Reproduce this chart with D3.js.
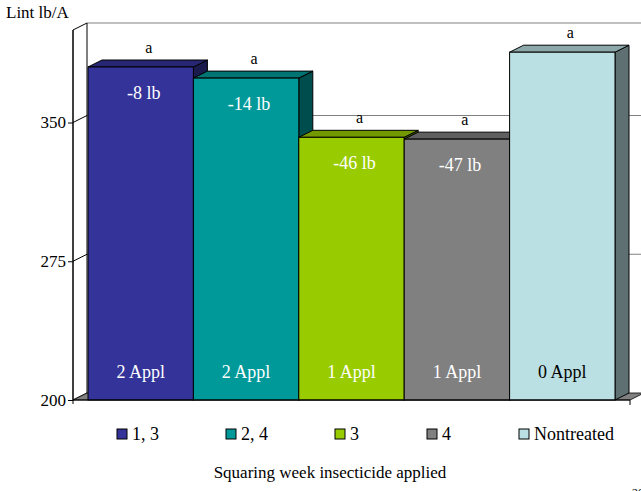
<!DOCTYPE html>
<html>
<head>
<meta charset="utf-8">
<script src="https://cdn.jsdelivr.net/npm/d3@7"></script>
<style>
  html, body { margin: 0; padding: 0; background: #fff; }
  svg { display: block; }
  svg text { font-family: "Liberation Serif", "Times New Roman", Times, serif; }
</style>
</head>
<body>
<svg id="chart" width="641" height="491"></svg>
<script>
// Lint yield by squaring-week insecticide treatment
const categories = ["1, 3", "2, 4", "3", "4", "Nontreated"];
const yieldValues = [380, 374, 342, 341, 388];
const applLabels = ["2 Appl", "2 Appl", "1 Appl", "1 Appl", "0 Appl"];
const sigLetters = ["a", "a", "a", "a", "a"];
const yTicks = [200, 275, 350];
const frontColors = ["#333399", "#009999", "#99cc00", "#808080", "#bbe0e3"];

const FONT = "'Liberation Serif', 'Times New Roman', Times, serif";
const svg = d3.select("#chart").attr("font-family", FONT);

// 3-D depth offset of the plot
const DX = 14, DY = -7;
const x0 = 73, xEnd = 630, yBase = 400, yTop = 30;

const y = d3.scaleLinear().domain([200, 400]).range([yBase, yTop]);
const x = d3.scaleBand().domain(categories).range([88, 615]).paddingInner(0).paddingOuter(0);

const shade = (c, k) => { const r = d3.rgb(c); return d3.rgb(r.r * k, r.g * k, r.b * k).formatHex(); };
const poly = pts => pts.map(p => p.join(",")).join(" ");

// back wall: top edge and gridlines
svg.append("line").attr("x1", x0 + DX).attr("x2", 641).attr("y1", yTop + DY).attr("y2", yTop + DY)
  .attr("stroke", "#808080").attr("stroke-width", 1);
svg.append("g").selectAll("line").data(yTicks.filter(d => d > 200)).join("line")
  .attr("x1", x0 + DX).attr("x2", 641)
  .attr("y1", d => y(d) + DY).attr("y2", d => y(d) + DY)
  .attr("stroke", "#808080").attr("stroke-width", 1.2);

// left side wall
svg.append("polygon")
  .attr("points", poly([[x0, yBase], [x0, yTop], [x0 + DX, yTop + DY], [x0 + DX, yBase + DY]]))
  .attr("fill", "#fff").attr("stroke", "#000").attr("stroke-width", 1);
svg.append("g").selectAll("line").data(yTicks.filter(d => d > 200)).join("line")
  .attr("x1", x0).attr("x2", x0 + DX)
  .attr("y1", d => y(d)).attr("y2", d => y(d) + DY)
  .attr("stroke", "#000").attr("stroke-width", 1);

// floor
svg.append("polygon")
  .attr("points", poly([[x0, yBase], [x0 + DX, yBase + DY], [xEnd + DX, yBase + DY], [xEnd, yBase]]))
  .attr("fill", "#808080").attr("stroke", "#000").attr("stroke-width", 0.8);

// bars, left to right so each front face covers the previous side face
const bars = svg.append("g");
categories.forEach((c, i) => {
  const v = yieldValues[i];
  const xl = x(c), xr = x(c) + x.bandwidth(), yt = y(v);
  const col = frontColors[i];
  const g = bars.append("g");
  g.append("polygon")
    .attr("points", poly([[xr, yt], [xr + DX, yt + DY], [xr + DX, yBase + DY], [xr, yBase]]))
    .attr("fill", shade(col, 0.5)).attr("stroke", "#000").attr("stroke-width", 1);
  g.append("polygon")
    .attr("points", poly([[xl, yt], [xl + DX, yt + DY], [xr + DX, yt + DY], [xr, yt]]))
    .attr("fill", shade(col, 0.75)).attr("stroke", "#000").attr("stroke-width", 1);
  g.append("rect")
    .attr("x", xl).attr("y", yt).attr("width", x.bandwidth()).attr("height", yBase - yt)
    .attr("fill", col).attr("stroke", "#000").attr("stroke-width", 1);
});

// front edges of walls and floor
svg.append("line").attr("x1", x0).attr("x2", x0).attr("y1", yTop).attr("y2", yBase + 4)
  .attr("stroke", "#000");
svg.append("line").attr("x1", x0).attr("x2", xEnd).attr("y1", yBase).attr("y2", yBase)
  .attr("stroke", "#000");
svg.append("line").attr("x1", xEnd).attr("x2", xEnd).attr("y1", yBase).attr("y2", yBase + 5)
  .attr("stroke", "#000");

// value axis
const yAxis = d3.axisLeft(y).tickValues(yTicks).tickSize(5).tickPadding(2).tickFormat(d3.format("d"));
const ag = svg.append("g").attr("transform", `translate(${x0},0)`).call(yAxis);
ag.attr("font-family", FONT).attr("font-size", 17);
ag.select(".domain").remove();
ag.selectAll("line").attr("stroke", "#000");
ag.selectAll("text").attr("fill", "#000");

svg.append("text").attr("x", 6).attr("y", 18).attr("font-size", 17).text("Lint lb/A");

// significance letters
const base = yieldValues[categories.indexOf("Nontreated")];
svg.append("g").selectAll("text").data(categories).join("text")
  .attr("x", d => x(d) + x.bandwidth() / 2 + 8)
  .attr("y", (d, i) => y(yieldValues[i]) + DY - 7)
  .attr("text-anchor", "middle").attr("font-size", 16)
  .text((d, i) => sigLetters[i]);

// yield difference from nontreated
svg.append("g").selectAll("text").data(categories.filter(d => d !== "Nontreated")).join("text")
  .attr("x", d => x(d) + x.bandwidth() / 2 + 3)
  .attr("y", d => y(yieldValues[categories.indexOf(d)]) + 32)
  .attr("text-anchor", "middle").attr("font-size", 18).attr("fill", "#fff")
  .text(d => `${yieldValues[categories.indexOf(d)] - base} lb`);

// number of applications
svg.append("g").selectAll("text").data(categories).join("text")
  .attr("x", d => x(d) + x.bandwidth() / 2)
  .attr("y", 378)
  .attr("text-anchor", "middle").attr("font-size", 18)
  .attr("fill", (d, i) => i === categories.length - 1 ? "#000" : "#fff")
  .text((d, i) => applLabels[i]);

// legend
const legendX = [117, 226, 335, 427, 519];
const lg = svg.append("g").selectAll("g").data(categories).join("g")
  .attr("transform", (d, i) => `translate(${legendX[i]},429)`);
lg.append("rect").attr("width", 10).attr("height", 10)
  .attr("fill", (d, i) => frontColors[i]).attr("stroke", "#000").attr("stroke-width", 1);
lg.append("text").attr("x", 15).attr("y", 11).attr("font-size", 18).text(d => d);

// axis title
svg.append("text").attr("x", 330).attr("y", 478).attr("text-anchor", "middle")
  .attr("font-size", 17).text("Squaring week insecticide applied");

svg.append("text").attr("x", 632).attr("y", 497).attr("font-size", 12).text("2003");
</script>
</body>
</html>
